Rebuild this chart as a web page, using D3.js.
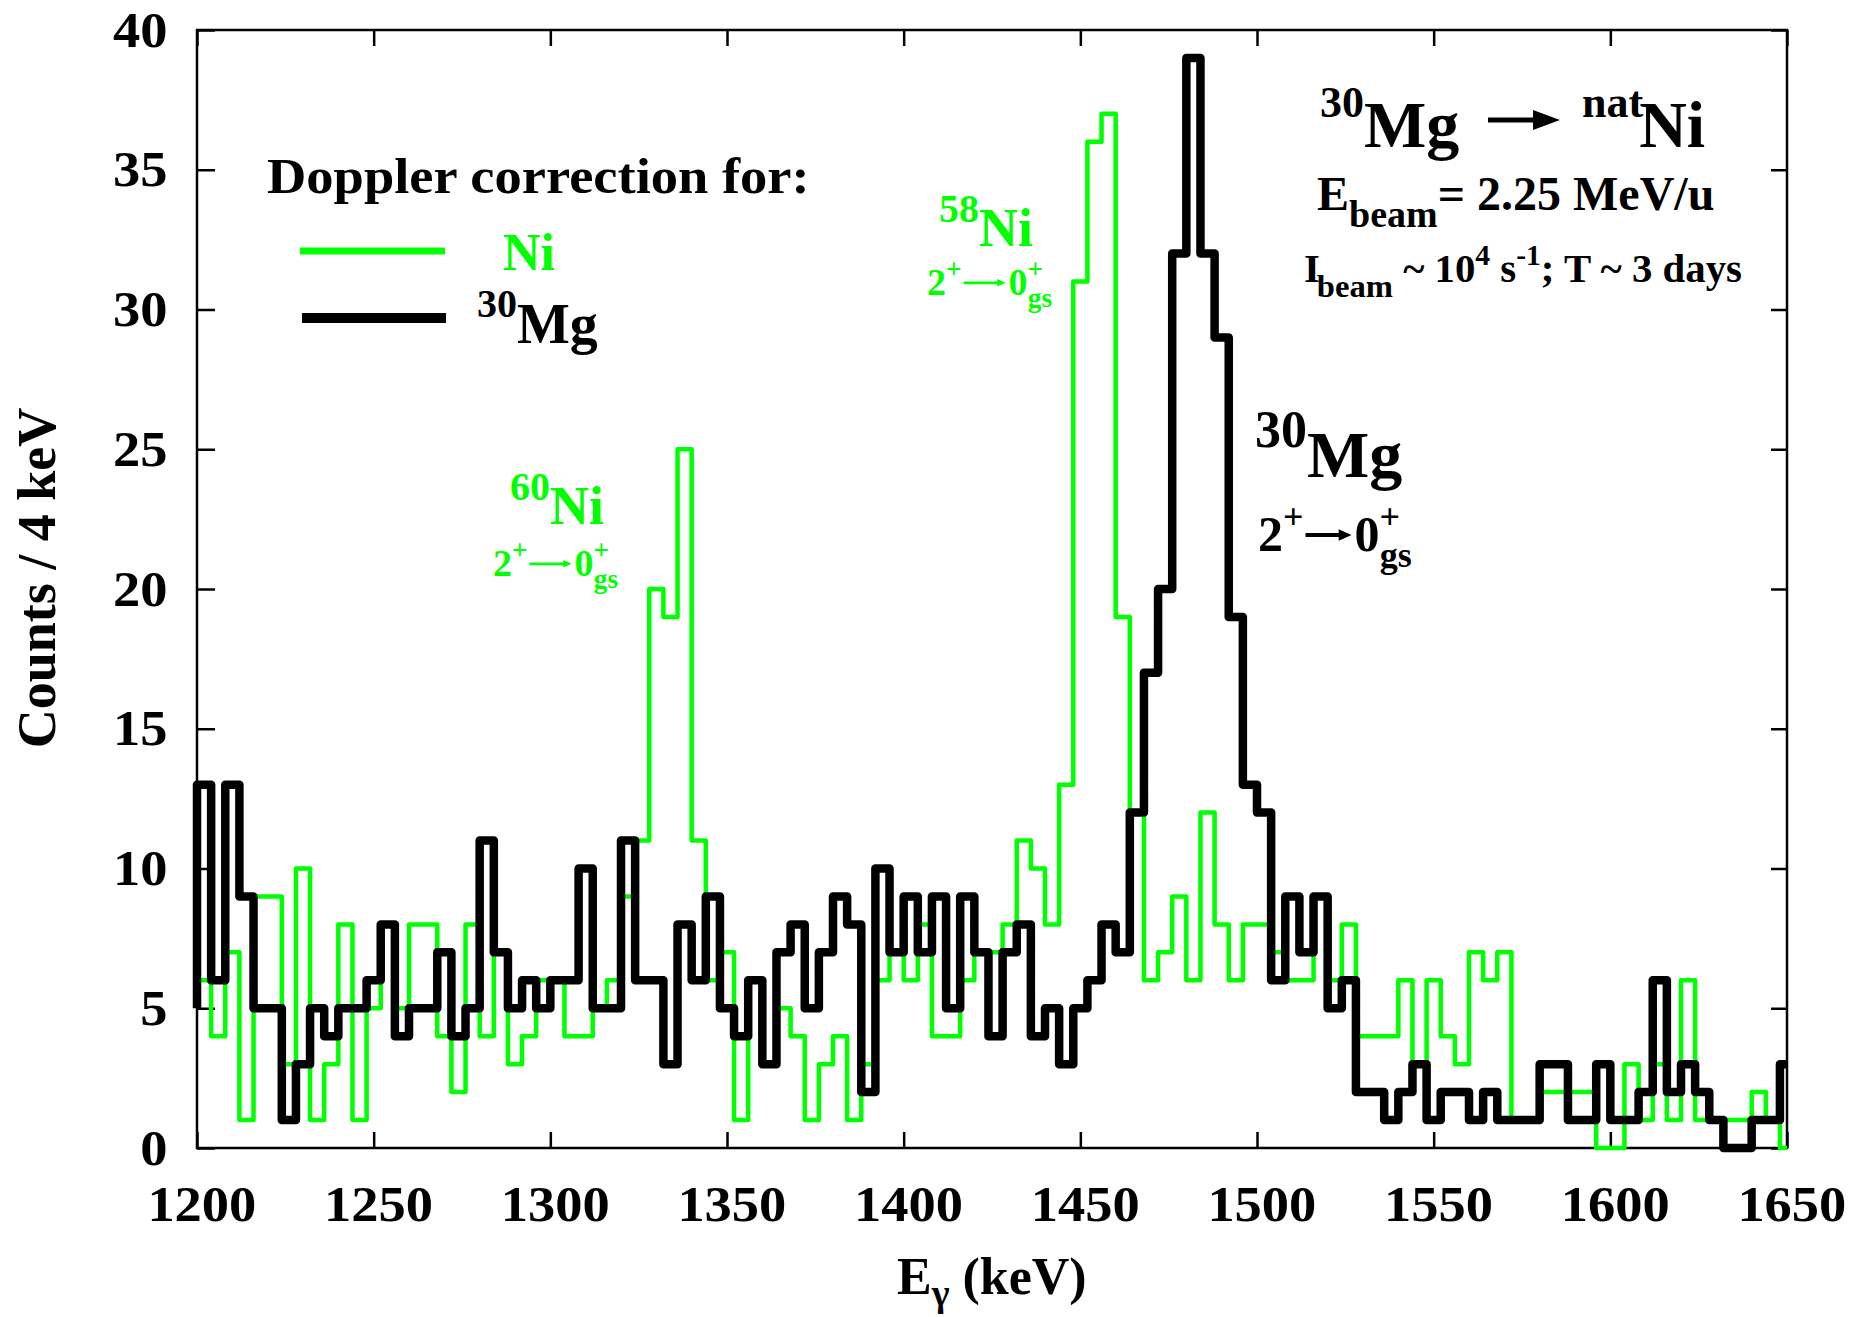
<!DOCTYPE html>
<html>
<head>
<meta charset="utf-8">
<script src="https://cdn.jsdelivr.net/npm/d3@7"></script>
<style>
  body { margin: 0; background: #fff; }
  text { font-family: "Liberation Serif", "Times New Roman", serif; font-weight: bold; }
</style>
</head>
<body>
<svg id="chart" width="1870" height="1317"></svg>
<script>
"use strict";

// 4 keV bins starting at 1200 keV
var binStart = 1200,
	binWidth = 4;

// counts with Doppler correction for 30Mg (black)
var mgCounts = [13, 6, 13, 9, 5, 5, 1, 3, 5, 4, 5, 5, 6, 8, 4, 5, 5, 7, 4, 5,
	11, 7, 5, 6, 5, 6, 6, 10, 5, 5, 11, 6, 6, 3, 8, 6, 9, 5, 4, 6,
	3, 7, 8, 5, 7, 9, 8, 2, 10, 7, 9, 7, 9, 5, 9, 7, 4, 7, 8, 4,
	5, 3, 5, 6, 8, 7, 12, 17, 20, 32, 39, 32, 29, 19, 13, 12, 6, 9, 7, 9,
	5, 6, 2, 2, 1, 2, 3, 1, 2, 2, 1, 2, 1, 1, 1, 3, 3, 1, 1, 3,
	1, 1, 2, 6, 2, 3, 2, 1, 0, 0, 1, 1, 3];

// counts with Doppler correction for Ni (green)
var niCounts = [6, 4, 7, 1, 9, 9, 3, 10, 1, 3, 8, 1, 5, 8, 5, 8, 8, 4, 2, 8,
	4, 7, 3, 4, 6, 6, 4, 4, 5, 6, 9, 11, 20, 19, 25, 11, 6, 7, 1, 6,
	3, 5, 4, 1, 3, 4, 1, 3, 6, 7, 6, 8, 4, 4, 6, 7, 7, 8, 11, 10,
	8, 13, 31, 36, 37, 19, 12, 6, 7, 9, 6, 12, 8, 6, 8, 8, 7, 6, 6, 9,
	6, 8, 4, 4, 4, 6, 3, 6, 4, 3, 7, 6, 7, 1, 1, 2, 2, 2, 2, 0,
	0, 3, 1, 3, 1, 6, 1, 1, 1, 1, 2, 1, 0];

// bin just below 1200 keV (only its right edge shows)
var mgUnderflow = 5,
	niUnderflow = 6;

var xTicks = [1200, 1250, 1300, 1350, 1400, 1450, 1500, 1550, 1600, 1650];
var yTicks = [0, 5, 10, 15, 20, 25, 30, 35, 40];

var Spectrum = (function(){
	var svg = {},
		x, y,
		left = 197, right = 1787, top = 30, bottom = 1148,
		stretch = 1.09,
		green = "#00ff00";

	function init(el) {
		svg = d3.select("#" + el);
		x = d3.scaleLinear().domain([1200, 1650]).range([left, right]);
		y = d3.scaleLinear().domain([0, 40]).range([bottom, top]);
		drawAxes();
		drawHist(niCounts, niUnderflow, green, 4.5);
		drawHist(mgCounts, mgUnderflow, "#000", 8.5);
		drawLabels();
	}

	function stepPoints(counts, under) {
		var pts = [[binStart, under]];
		counts.forEach(function(c, i) {
			pts.push([binStart + i * binWidth, c]);
		});
		var end = Math.min(binStart + counts.length * binWidth, x.domain()[1]);
		pts.push([end, counts[counts.length - 1]]);
		return pts;
	}

	function drawHist(counts, under, color, width) {
		var line = d3.line()
			.curve(d3.curveStepAfter)
			.x(function(d) { return x(d[0]); })
			.y(function(d) { return y(d[1]); });
		svg.append("path")
			.datum(stepPoints(counts, under))
			.attr("d", line)
			.attr("fill", "none")
			.attr("stroke", color)
			.attr("stroke-width", width)
			.attr("stroke-linejoin", "round");
	}

	function styleAxis(g, labels) {
		g.select(".domain").remove();
		g.selectAll(".tick line").attr("stroke", "#000").attr("stroke-width", 2.5);
		g.selectAll(".tick text")
			.attr("font-family", "Liberation Serif, Times New Roman, serif")
			.attr("font-weight", "bold")
			.attr("font-size", 50)
			.attr("fill", "#000")
			.attr("transform", "scale(" + stretch + ",1)");
		if (!labels) g.selectAll(".tick text").remove();
	}

	function drawAxes() {
		svg.append("g")
			.attr("transform", "translate(0," + bottom + ")")
			.call(d3.axisBottom(x).tickValues(xTicks).tickSize(-16).tickPadding(38).tickFormat(d3.format("d")))
			.call(styleAxis, true)
			.selectAll(".tick text").attr("dx", 4);
		svg.append("g")
			.attr("transform", "translate(0," + top + ")")
			.call(d3.axisTop(x).tickValues(xTicks).tickSize(-16))
			.call(styleAxis, false);
		svg.append("g")
			.attr("transform", "translate(" + left + ",0)")
			.call(d3.axisLeft(y).tickValues(yTicks).tickSize(-18).tickPadding(27))
			.call(styleAxis, true);
		svg.append("g")
			.attr("transform", "translate(" + right + ",0)")
			.call(d3.axisRight(y).tickValues(yTicks).tickSize(-16))
			.call(styleAxis, false);
		svg.append("rect")
			.attr("x", left).attr("y", top)
			.attr("width", right - left).attr("height", bottom - top)
			.attr("fill", "none").attr("stroke", "#000").attr("stroke-width", 2.5);
	}

	// parts: [text, font size, baseline offset, dx]
	function rich(parent, px, py, parts, color, sx) {
		var g = parent.append("g")
			.attr("transform", "translate(" + px + "," + py + ") scale(" + (sx || 1) + ",1)");
		var t = g.append("text")
			.attr("fill", color || "#000"),
			cur = 0;
		parts.forEach(function(p) {
			var s = t.append("tspan")
				.attr("font-size", p[1])
				.attr("dy", p[2] - cur)
				.text(p[0]);
			if (p[3]) s.attr("dx", p[3]);
			cur = p[2];
		});
		return t;
	}

	function transition(px, py, size, color, arrowLen, lw) {
		// 2+ -> 0+ with gs subscript, arrow drawn as a path
		var sup = -0.44 * size, sub = 0.32 * size, small = 0.72 * size,
			g = svg.append("g").attr("transform", "translate(" + px + "," + py + ")");
		var first = rich(g, 0, 0, [["2", size, 0], ["+", small, sup]], color);
		var w = first.node().getComputedTextLength() + 2,
			ay = -0.32 * size,
			head = lw * 3.2;
		g.append("line")
			.attr("x1", w).attr("x2", w + arrowLen - head + 1)
			.attr("y1", ay).attr("y2", ay)
			.attr("stroke", color).attr("stroke-width", lw);
		g.append("path")
			.attr("d", "M" + (w + arrowLen - head) + "," + (ay - head / 2.2) +
				" L" + (w + arrowLen) + "," + ay +
				" L" + (w + arrowLen - head) + "," + (ay + head / 2.2) + " Z")
			.attr("fill", color);
		rich(g, w + arrowLen + 3, 0, [["0", size, 0], ["+", small, sup], ["gs", small, sub, -0.56 * small]], color);
	}

	function drawLabels() {
		// axis titles
		rich(svg, 897, 1294, [["E", 52, 0], ["\u03b3", 38, 12], [" (keV)", 52, 0]]);
		svg.append("text")
			.attr("transform", "translate(55,578) rotate(-90)")
			.attr("text-anchor", "middle")
			.attr("font-size", 54)
			.text("Counts / 4 keV");

		// legend
		rich(svg, 267, 193, [["Doppler correction for:", 50, 0]], "#000", stretch);
		svg.append("line").attr("x1", 300).attr("x2", 445).attr("y1", 251).attr("y2", 251)
			.attr("stroke", green).attr("stroke-width", 7);
		svg.append("line").attr("x1", 302).attr("x2", 446).attr("y1", 318).attr("y2", 318)
			.attr("stroke", "#000").attr("stroke-width", 10);
		rich(svg, 503, 270, [["Ni", 52, 0]], green);
		rich(svg, 477, 343, [["30", 40, -26], ["Mg", 56, 0]]);

		// reaction box
		rich(svg, 1320, 147, [["30", 44, -30], ["Mg", 66, 0]]);
		svg.append("line")
			.attr("x1", 1488).attr("x2", 1536).attr("y1", 120).attr("y2", 120)
			.attr("stroke", "#000").attr("stroke-width", 5);
		svg.append("path")
			.attr("d", "M1533,110 L1560,120 L1533,130 Z")
			.attr("fill", "#000");
		rich(svg, 1582, 147, [["nat", 44, -30], ["Ni", 66, 0, -4]]);
		rich(svg, 1317, 210, [["E", 48, 0], ["beam", 38, 17], ["= 2.25 MeV/u", 48, 0]]);
		rich(svg, 1304, 282, [["I", 40, 0], ["beam", 32, 15, -3], [" ~ 10", 40, 0], ["4", 29, -17],
			[" s", 40, 0], ["-1", 29, -17], ["; T ~ 3 days", 40, 0]], "#000", 1.02);

		// peak labels
		rich(svg, 510, 524, [["60", 40, -24], ["Ni", 54, 0]], green);
		transition(493, 576, 38, green, 42, 2.6);
		rich(svg, 939, 246, [["58", 40, -24], ["Ni", 54, 0]], green);
		transition(927, 295, 38, green, 42, 2.6);
		rich(svg, 1255, 477, [["30", 52, -30], ["Mg", 66, 0]]);
		transition(1258, 551, 50, "#000", 46, 4);
	}

	return {
		"init": init
	};
}());

Spectrum.init("chart");
</script>
</body>
</html>
